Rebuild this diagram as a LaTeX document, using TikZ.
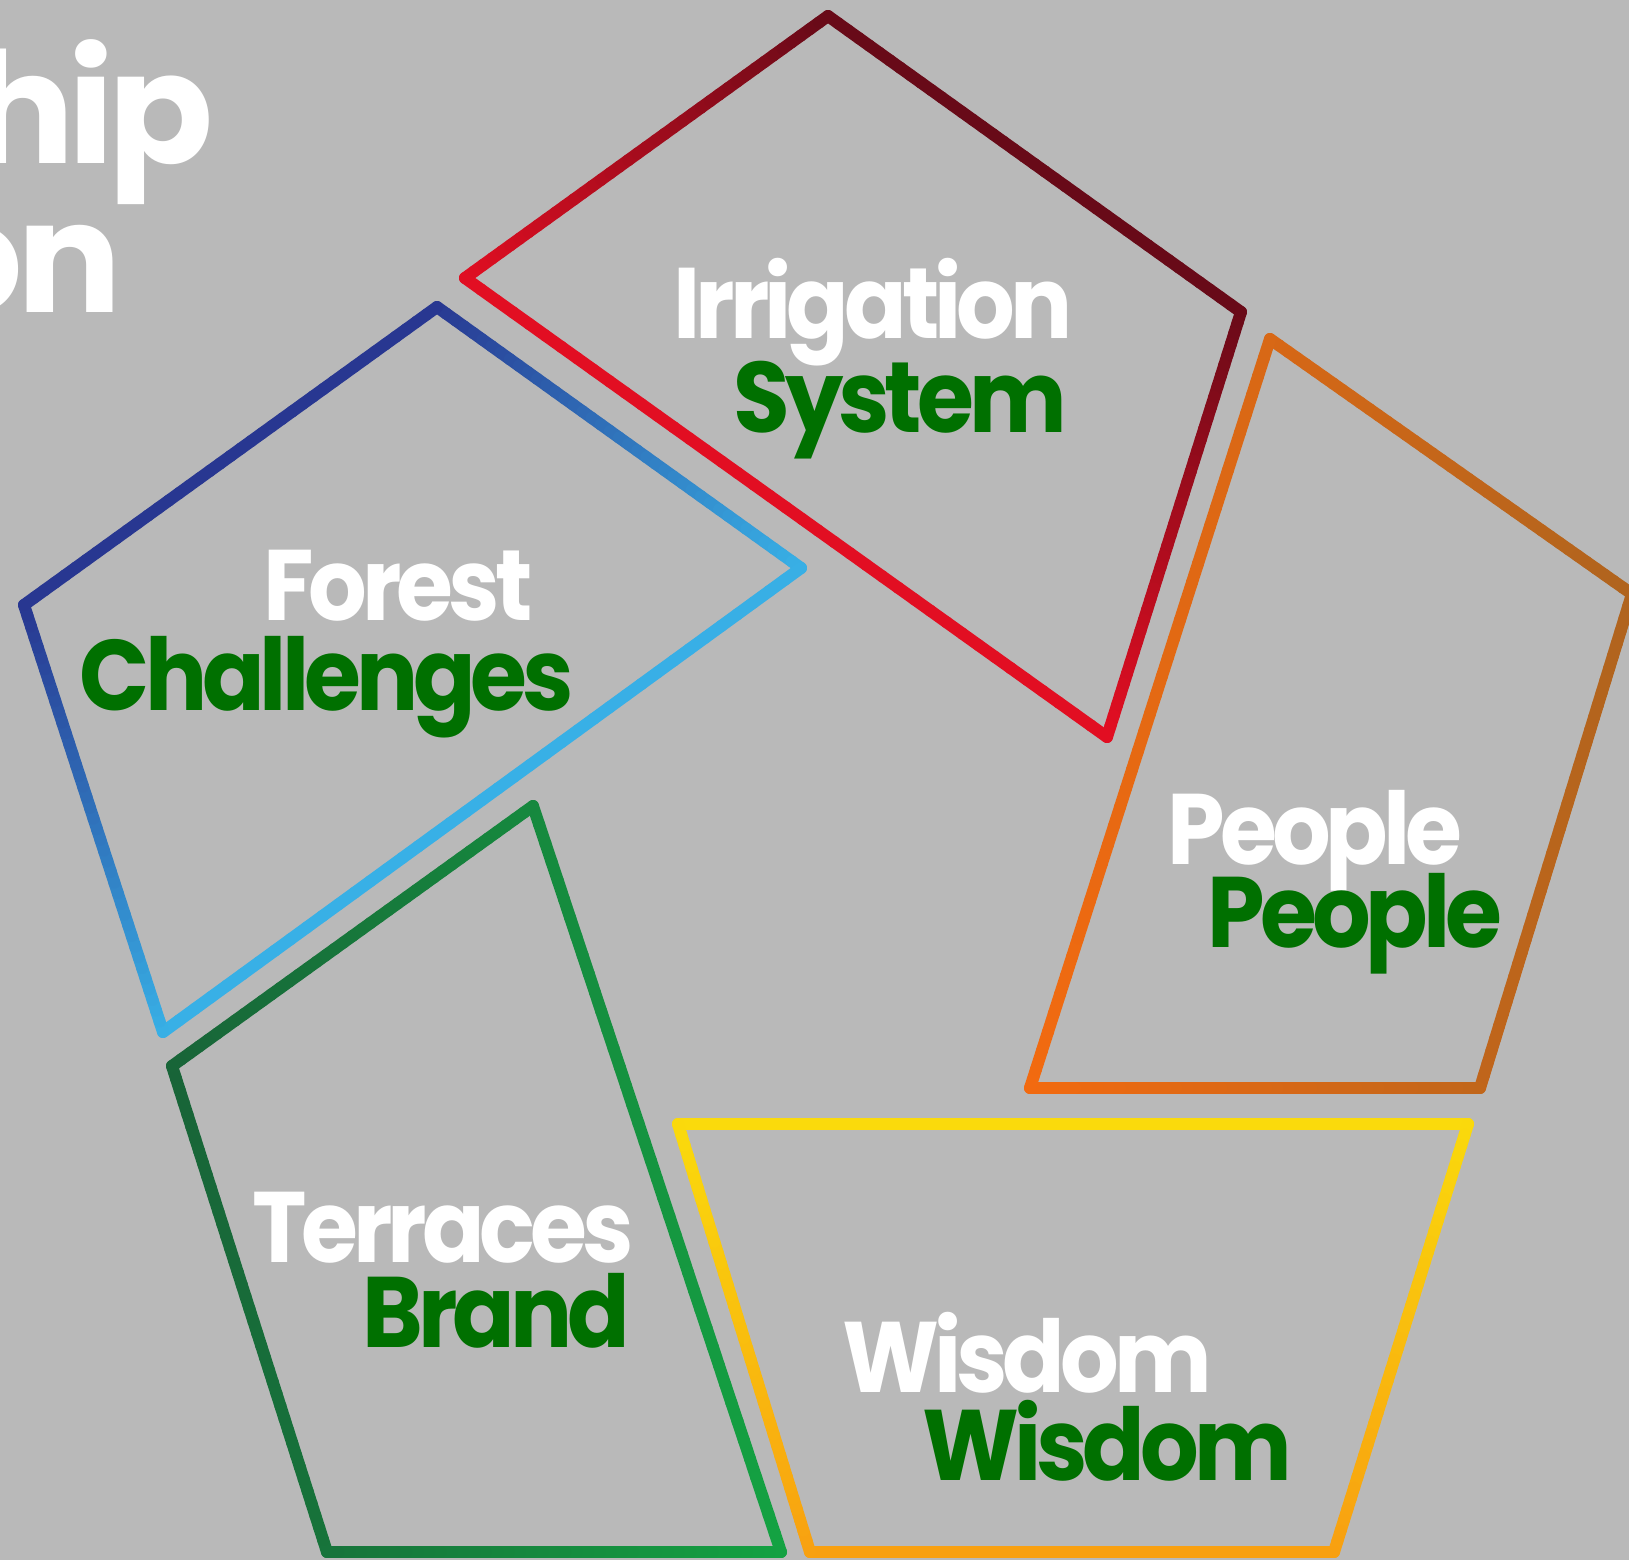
\documentclass[tikz,border=0pt]{standalone}
\usepackage{fontspec}
\setmainfont{Poppins}
\newfontfamily\labfont[LetterSpace=-5,FakeStretch=0.92]{Poppins}
\newfontfamily\bigfont[LetterSpace=-4]{Poppins}
\definecolor{bg}{RGB}{185,185,185}
\definecolor{txtgreen}{RGB}{0,112,0}
\definecolor{redA}{RGB}{226,14,34}
\definecolor{redB}{RGB}{104,10,24}
\definecolor{blueA}{RGB}{40,55,145}
\definecolor{blueB}{RGB}{56,176,230}
\definecolor{greenA}{RGB}{24,100,56}
\definecolor{greenB}{RGB}{20,162,66}
\definecolor{yelA}{RGB}{250,218,12}
\definecolor{yelB}{RGB}{248,160,16}
\definecolor{oraA}{RGB}{242,106,16}
\definecolor{oraB}{RGB}{176,100,30}
\tikzset{
  seg/.style={line width=0.12cm, line cap=round},
  lab/.style={inner sep=0pt, anchor=base, font=\labfont\bfseries\fontsize{28.5}{30}\selectfont},
  white lab/.style={lab, text=white},
  green lab/.style={lab, text=txtgreen},
  big/.style={inner sep=0pt, anchor=base east, text=white, font=\bigfont\bfseries\fontsize{44}{46}\selectfont}
}
% gradient set-up: colour at t=0, colour at t=1, point where t=0, point where t=1
\newcommand\setgrad[6]{%
  \def\gradA{#1}\def\gradB{#2}%
  \pgfmathsetmacro\gradX{#3/100}\pgfmathsetmacro\gradY{#4/100}%
  \pgfmathsetmacro\gradDX{(#5-#3)/100}\pgfmathsetmacro\gradDY{(#6-#4)/100}%
  \pgfmathsetmacro\gradLL{\gradDX*\gradDX+\gradDY*\gradDY}}
% one edge drawn as short segments coloured along the gradient
\newcommand\gedge[4]{%
  \foreach \k in {0,...,39}{%
    \pgfmathsetmacro\fa{\k/40}%
    \pgfmathsetmacro\fb{(\k+1)/40}%
    \pgfmathsetmacro\sxa{#1+(#3-#1)*\fa}%
    \pgfmathsetmacro\sya{#2+(#4-#2)*\fa}%
    \pgfmathsetmacro\sxb{#1+(#3-#1)*\fb}%
    \pgfmathsetmacro\syb{#2+(#4-#2)*\fb}%
    \pgfmathsetmacro\gt{max(0,min(100,100*(((\sxa+\sxb)/200-\gradX)*\gradDX+((\sya+\syb)/200-\gradY)*\gradDY)/\gradLL))}%
    \draw[seg, draw=\gradB!\gt!\gradA] (\sxa,\sya) -- (\sxb,\syb);
  }}

\begin{document}
\begin{tikzpicture}[x=0.01cm, y=-0.01cm]
  \fill[bg] (0,0) rectangle (1629,1560);
  \useasboundingbox (0,0) rectangle (1629,1560);
  \clip (0,0) rectangle (1629,1560);

  % red (Irrigation System)
  \setgrad{redA}{redB}{464}{278}{710}{-67}
  \gedge{828}{16}{1241}{312}
  \gedge{1241}{312}{1107}{737}
  \gedge{1107}{737}{465}{278}
  \gedge{465}{278}{828}{16}

  % blue (Forest Challenges)
  \setgrad{blueA}{blueB}{23}{605}{273}{952}
  \gedge{437}{307}{801}{568}
  \gedge{801}{568}{163}{1032}
  \gedge{163}{1032}{24}{605}
  \gedge{24}{605}{437}{307}

  % green (Terraces Brand)
  \setgrad{greenA}{greenB}{171}{0}{781}{0}
  \gedge{533}{806}{781}{1552}
  \gedge{781}{1552}{327}{1552}
  \gedge{327}{1552}{172}{1066}
  \gedge{172}{1066}{533}{806}

  % yellow (Wisdom)
  \setgrad{yelA}{yelB}{0}{1124}{0}{1553}
  \gedge{678}{1124}{1468}{1124}
  \gedge{1468}{1124}{1334}{1552}
  \gedge{1334}{1552}{810}{1552}
  \gedge{810}{1552}{678}{1124}

  % orange (People)
  \setgrad{oraA}{oraB}{1029}{0}{1630}{0}
  \gedge{1270}{339}{1632}{594}
  \gedge{1632}{594}{1480}{1088}
  \gedge{1480}{1088}{1030}{1088}
  \gedge{1030}{1088}{1270}{339}

  % cut-off title
  \node[big] (t1) at (214,163) {hip};
  \node[big] (t2) at (122,312) {on};

  % labels
  \node[white lab] (irr) at (873,338) {Irrigation};
  \node[green lab] (sys) at (900,432) {System};
  \node[white lab] (for) at (398,620) {Forest};
  \node[green lab] (cha) at (327,710) {Challenges};
  \node[white lab] (pe1) at (1315,864) {People};
  \node[green lab] (pe2) at (1355,947) {People};
  \node[white lab] (ter) at (443,1262) {Terraces};
  \node[green lab] (bra) at (496,1347) {Brand};
  \node[white lab] (wi1) at (1027,1392) {Wisdom};
  \node[green lab] (wi2) at (1107,1480) {Wisdom};
\end{tikzpicture}
\end{document}
